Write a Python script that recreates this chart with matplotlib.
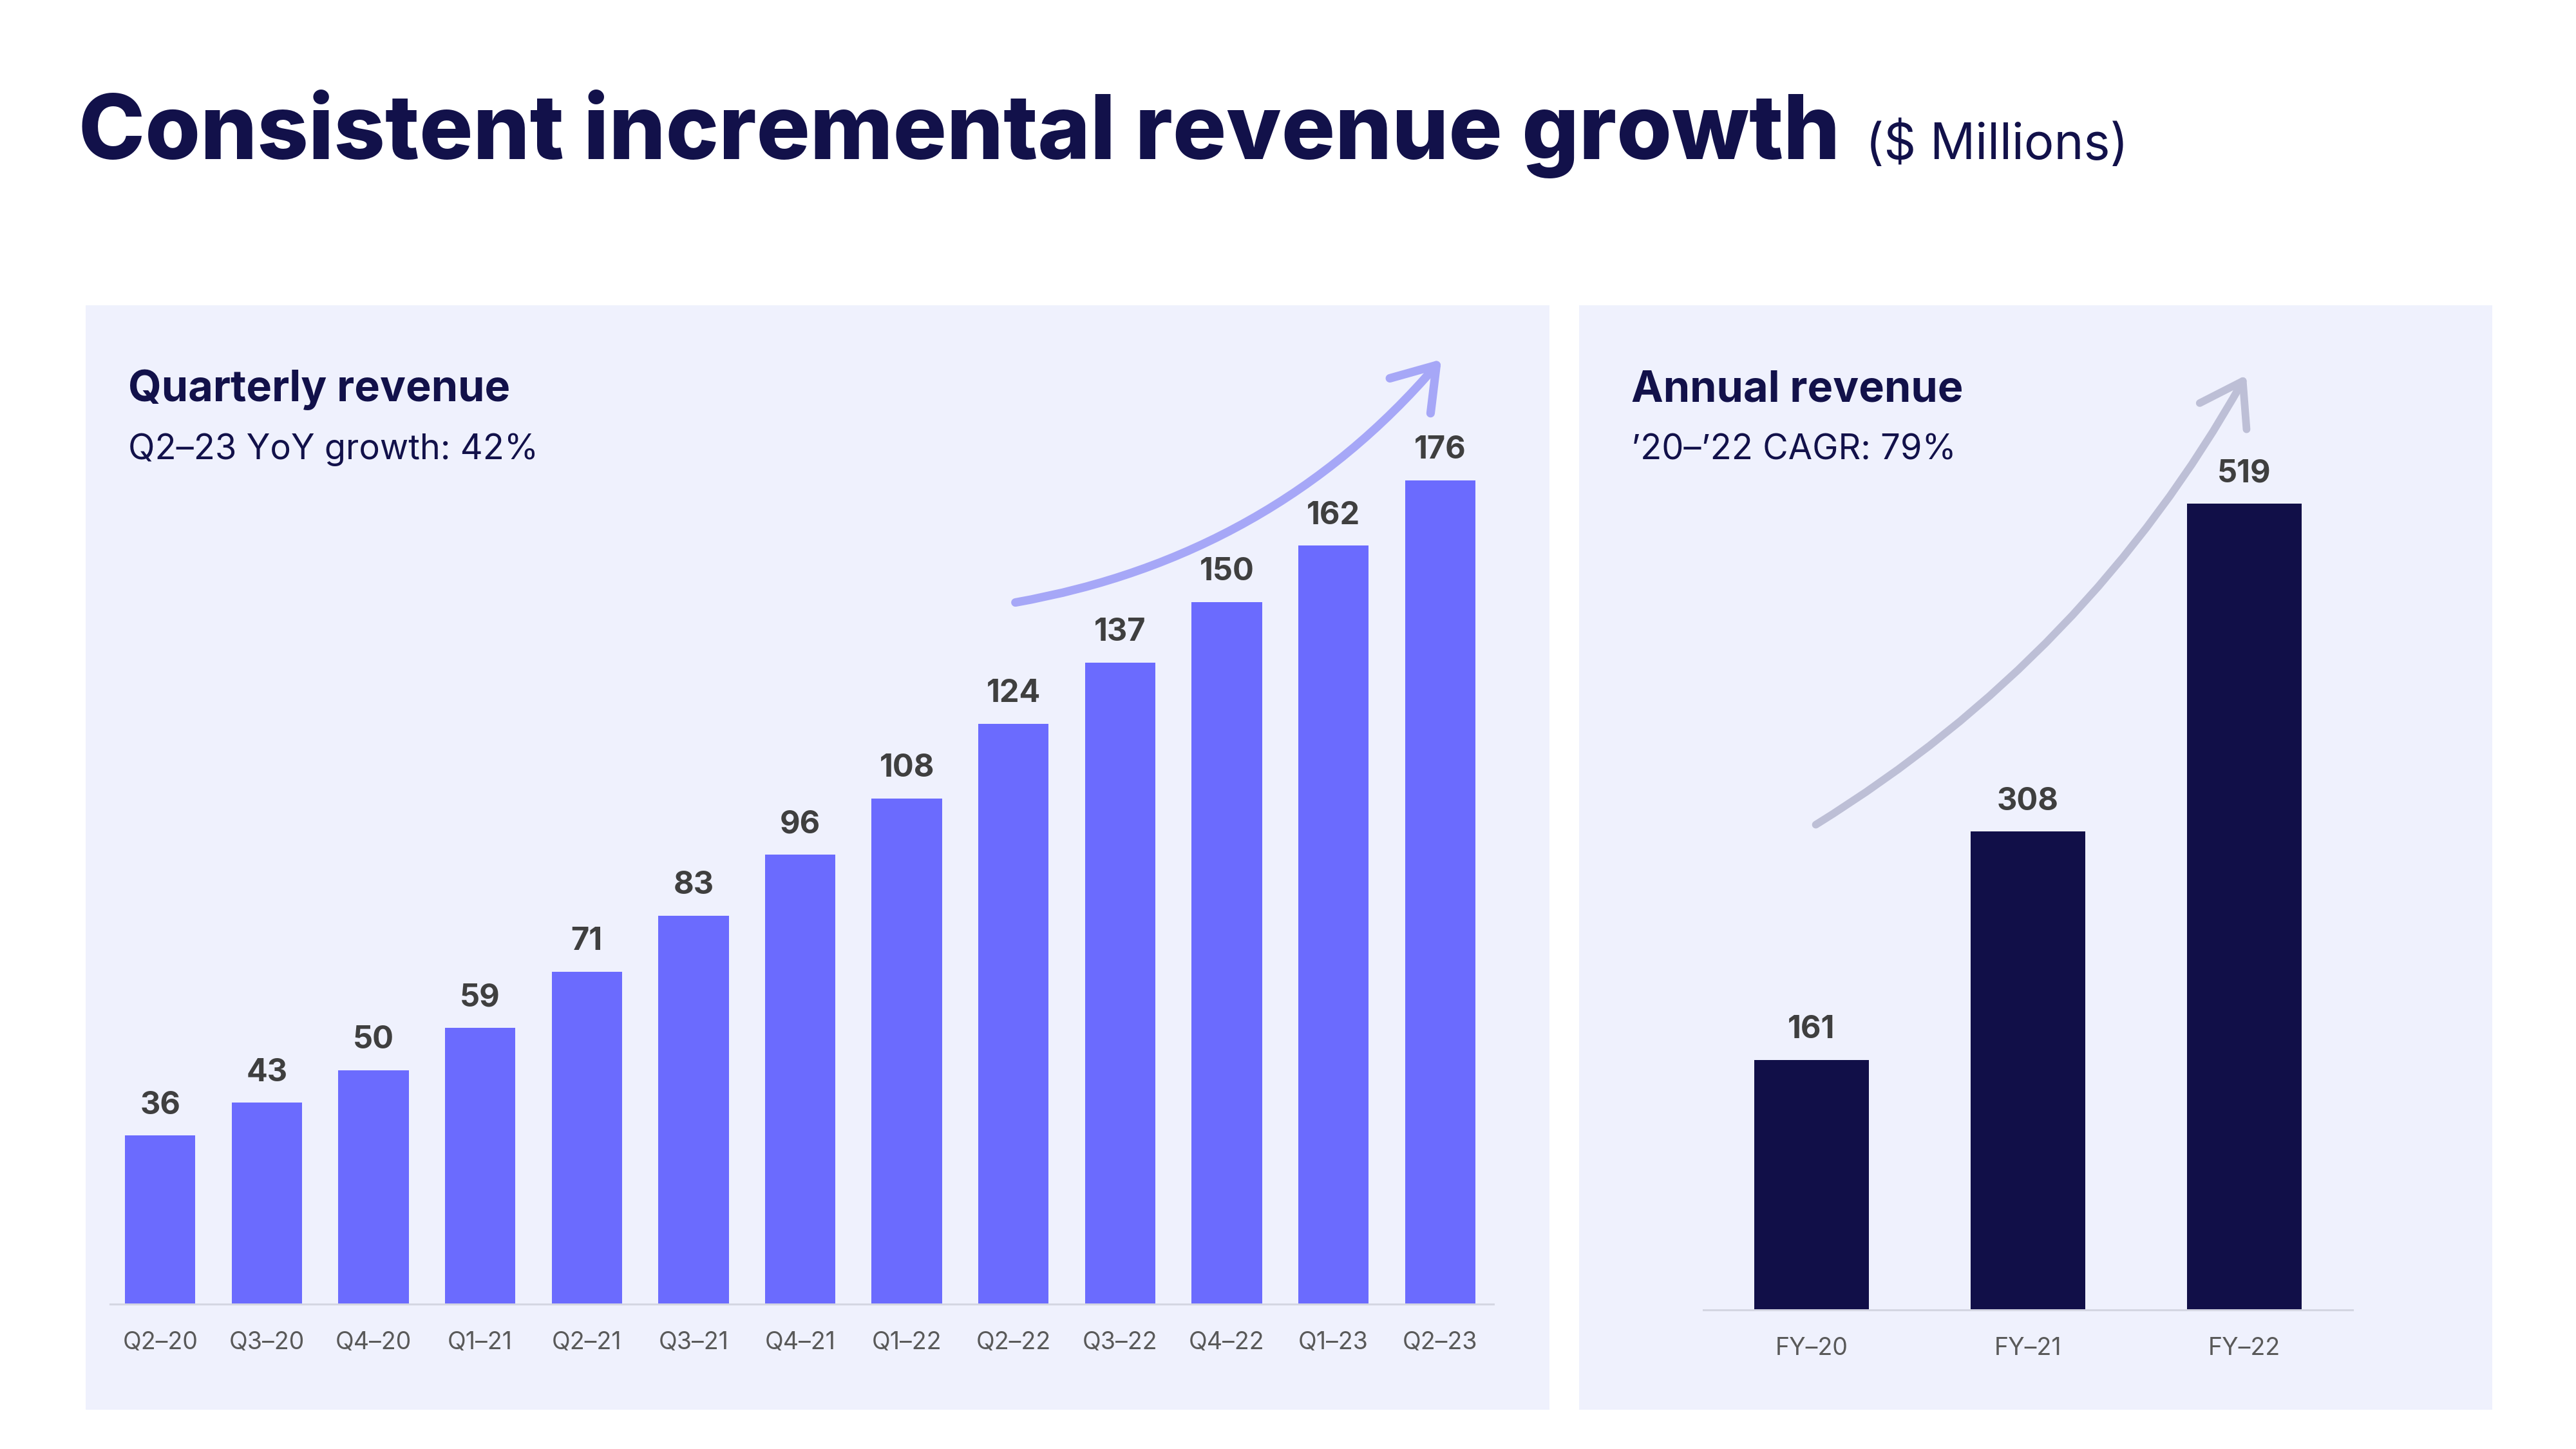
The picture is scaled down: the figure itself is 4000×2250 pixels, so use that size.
import matplotlib
matplotlib.use("Agg")
import matplotlib.pyplot as plt
from matplotlib.patches import Rectangle, ArrowStyle

plt.rcParams['font.family'] = ['Inter', 'DejaVu Sans']

quarters = ['Q2–20', 'Q3–20', 'Q4–20', 'Q1–21', 'Q2–21', 'Q3–21', 'Q4–21',
            'Q1–22', 'Q2–22', 'Q3–22', 'Q4–22', 'Q1–23', 'Q2–23']
quarterly_rev = [36, 43, 50, 59, 71, 83, 96, 108, 124, 137, 150, 162, 176]
years = ['FY–20', 'FY–21', 'FY–22']
annual_rev = [161, 308, 519]

navy = '#12114A'
panel_bg = '#EFF1FD'
label_col = '#3F3F3F'
tick_col = '#595959'

fig = plt.figure(figsize=(40, 22.5), dpi=100)
fig.patch.set_facecolor('white')

# panel backgrounds
fig.add_artist(Rectangle((0.03325, 0.0271), 0.56825, 0.7622, transform=fig.transFigure,
                         facecolor=panel_bg, edgecolor='none', zorder=0))
fig.add_artist(Rectangle((0.613, 0.0271), 0.3545, 0.7622, transform=fig.transFigure,
                         facecolor=panel_bg, edgecolor='none', zorder=0))

# title
t = fig.text(0.0305, 0.8902, 'Consistent incremental revenue growth', fontsize=100,
             fontweight='heavy', color=navy, va='baseline', ha='left')
fig.canvas.draw()
bb = t.get_window_extent()
fig.text((bb.x1 + 40) / 4000, 0.8902, '($ Millions)', fontsize=56, color=navy,
         va='baseline', ha='left')

# panel headings
fig.text(0.04975, 0.7231, 'Quarterly revenue', fontsize=48, fontweight='bold', color=navy, va='baseline')
fig.text(0.04975, 0.6831, 'Q2–23 YoY growth: 42%', fontsize=39, color=navy, va='baseline')
fig.text(0.63325, 0.7231, 'Annual revenue', fontsize=48, fontweight='bold', color=navy, va='baseline')
fig.text(0.63325, 0.6831, '’20–’22 CAGR: 79%', fontsize=39, color=navy, va='baseline')


def style_axis(ax):
    ax.set_facecolor('none')
    for s in ['top', 'right', 'left']:
        ax.spines[s].set_visible(False)
    ax.spines['bottom'].set_color('#D4D6E2')
    ax.spines['bottom'].set_linewidth(2.2)
    ax.set_yticks([])
    ax.tick_params(axis='x', length=0, pad=30, labelsize=27, labelcolor=tick_col)


# quarterly bars
ax1 = fig.add_axes([0.04275, 0.1, 0.537, 0.6462])
style_axis(ax1)
bars1 = ax1.bar(range(len(quarters)), quarterly_rev, width=0.66, color='#6B6BFE', zorder=2)
ax1.set_xlim(-0.47, len(quarters) - 0.5)
ax1.set_ylim(0, 200)
ax1.set_xticks(range(len(quarters)))
ax1.set_xticklabels(quarters)
for b, v in zip(bars1, quarterly_rev):
    ax1.annotate(str(v), (b.get_x() + b.get_width() / 2, v), xytext=(0, 17),
                 textcoords='offset points', ha='center', va='bottom',
                 fontsize=35, fontweight='bold', color=label_col)

# annual bars
ax2 = fig.add_axes([0.66125, 0.096, 0.252, 0.6431])
style_axis(ax2)
bars2 = ax2.bar(range(len(years)), annual_rev, width=0.53, color='#110F48', zorder=2)
ax2.set_xlim(-0.5, len(years) - 0.5)
ax2.set_ylim(0, 600)
ax2.set_xticks(range(len(years)))
ax2.set_xticklabels(years)
for b, v in zip(bars2, annual_rev):
    ax2.annotate(str(v), (b.get_x() + b.get_width() / 2, v), xytext=(0, 17),
                 textcoords='offset points', ha='center', va='bottom',
                 fontsize=35, fontweight='bold', color=label_col)

# growth arrows
head = ArrowStyle('->', head_length=0.45, head_width=0.3)
fig.add_artist(matplotlib.patches.FancyArrowPatch(
    (0.3935, 0.584), (0.560, 0.7529), transform=fig.transFigure,
    arrowstyle=head, mutation_scale=100, connectionstyle='arc3,rad=0.18',
    color='#A6A7F7', lw=9.5, capstyle='round', joinstyle='round', zorder=3))
fig.add_artist(matplotlib.patches.FancyArrowPatch(
    (0.7043, 0.4302), (0.8723, 0.7422), transform=fig.transFigure,
    arrowstyle=head, mutation_scale=100, connectionstyle='arc3,rad=0.13',
    color='#BDBFD6', lw=8.5, capstyle='round', joinstyle='round', zorder=3))

fig.savefig('out.png', dpi=100, facecolor='white')
